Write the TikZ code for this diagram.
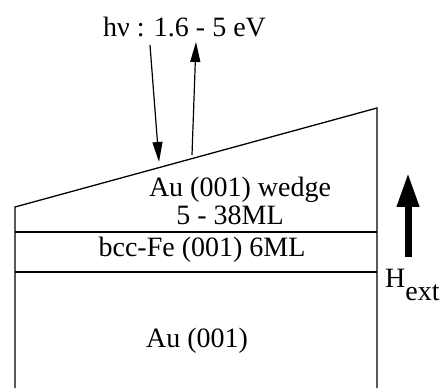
\documentclass[tikz,border=0pt]{standalone}
\usepackage{fontspec}
\setmainfont{Liberation Serif}
\usetikzlibrary{arrows.meta}
\begin{document}
\begin{tikzpicture}[x=1pt,y=1pt,
  layer/.style={line width=1.3pt},
  lbl/.style={inner sep=0pt,anchor=base,font=\fontsize{28}{32}\selectfont},
  photon/.style={line width=1.2pt,-{Triangle[length=20pt,width=10pt]}},
  field/.style={line width=7pt,-{Triangle[length=34pt,width=21pt]}}]
\useasboundingbox (0,0) rectangle (441,388);
% sample outline
\coordinate (bl) at (15,0);
\coordinate (tl) at (15,181);
\coordinate (tr) at (377,280);
\coordinate (br) at (377,0);
\draw[layer] (bl) -- (tl) -- (tr) -- (br);
\draw[layer] (15,156) -- (377,156);
\draw[layer] (15,116) -- (377,116);
% labels
\node[lbl,anchor=base west] (hv) at (103,351) {hν : 1.6 - 5 eV};
\node[lbl] (wedge) at (240,191) {Au (001) wedge};
\node[lbl] (ml) at (230,163) {5 - 38ML};
\node[lbl] (fe) at (202,131) {bcc-Fe (001) 6ML};
\node[lbl] (au) at (197,41) {Au (001)};
\node[lbl,anchor=base west] (hext) at (385,100) {H\raisebox{-12pt}{ext}};
% photon arrows
\coordinate (inS) at (150,343);
\coordinate (inE) at (159,226);
\coordinate (outS) at (192,233);
\coordinate (outE) at (196,346);
\draw[photon] (inS) -- (inE);
\draw[photon] (outS) -- (outE);
% field arrow
\coordinate (hS) at (408,131);
\coordinate (hE) at (408,215);
\draw[field] (hS) -- (hE);
\end{tikzpicture}
\end{document}
